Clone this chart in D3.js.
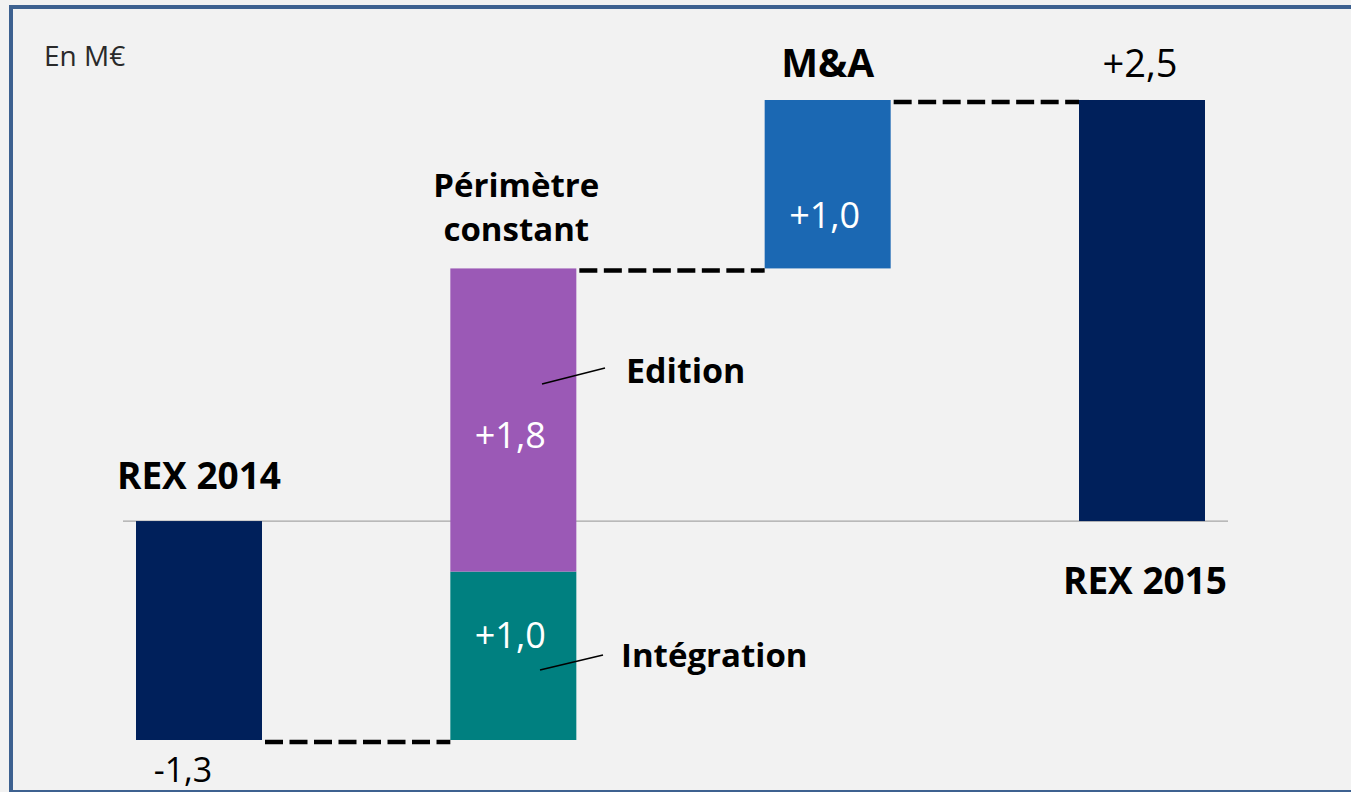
<!DOCTYPE html>
<html><head><meta charset="utf-8">
<script src="https://cdn.jsdelivr.net/npm/d3@7"></script>
<style>
html,body{margin:0;padding:0;background:#f2f2f2;overflow:hidden}
svg{display:block}
text{font-family:"Open Sans","Noto Sans",sans-serif}
</style></head>
<body>
<svg id="c" width="1351" height="792"></svg>
<script>
// Data
const categories = ["REX 2014", "Périmètre constant", "M&A", "REX 2015"];
const segCategory = ["REX 2014", "Périmètre constant", "Périmètre constant", "M&A", "REX 2015"];
const segStart    = [0, -1.3, -0.3, 1.5, 0];
const segEnd      = [-1.3, -0.3, 1.5, 2.5, 2.5];
const segLabel    = ["", "+1,0", "+1,8", "+1,0", ""];
const segColor    = ["#00205b", "#008080", "#9b59b6", "#1b68b3", "#00205b"];
const connectorLevels = [-1.3, 1.5, 2.5];
const totalLabels = ["-1,3", "+2,5"];
const unitLabel = "En M€";

const svg = d3.select("#c");
const W = 1351, H = 792;

svg.append("rect").attr("x",0).attr("y",0).attr("width",W).attr("height",H).attr("fill","#f2f2f2");
const frame = "#3d6190";
svg.append("line").attr("x1",9).attr("x2",W).attr("y1",7).attr("y2",7).attr("stroke",frame).attr("stroke-width",4);
svg.append("line").attr("x1",11).attr("x2",11).attr("y1",5).attr("y2",H).attr("stroke",frame).attr("stroke-width",4);
svg.append("line").attr("x1",9).attr("x2",W).attr("y1",791).attr("y2",791).attr("stroke",frame).attr("stroke-width",2);

const y = d3.scaleLinear().domain([-1.3, 2.5]).range([740, 100]);
const x = d3.scalePoint().domain(categories).range([199, 1142]);
const bw = 126;

svg.append("line").attr("x1",123).attr("x2",1228).attr("y1",y(0)).attr("y2",y(0))
  .attr("stroke","#a6a6a6").attr("stroke-width",1.2);

const segs = segCategory.map((c,i)=>({c, s:segStart[i], e:segEnd[i], l:segLabel[i], col:segColor[i]}));
svg.selectAll("rect.bar").data(segs).join("rect").attr("class","bar")
  .attr("x", d=>x(d.c)-bw/2).attr("width", bw)
  .attr("y", d=>y(Math.max(d.s,d.e))).attr("height", d=>Math.abs(y(d.s)-y(d.e)))
  .attr("fill", d=>d.col);

// label placement within each segment (fraction from the top of the segment)
const labelFrac = [0.5, 0.375, 0.55, 0.68, 0.5];
svg.selectAll("text.in").data(segs.map((d,i)=>({...d, f:labelFrac[i]})).filter(d=>d.l)).join("text").attr("class","in")
  .attr("x", d=>x(d.c)-3)
  .attr("y", d=>{const top=y(Math.max(d.s,d.e)), bot=y(Math.min(d.s,d.e)); return top+(bot-top)*d.f+13;})
  .attr("text-anchor","middle").attr("fill","#fff").attr("font-size",36).text(d=>d.l);

connectorLevels.forEach((v,i)=>{
  const a = categories[i], b = categories[i+1];
  svg.append("line").attr("x1", x(a)+bw/2+3).attr("x2", x(b)-bw/2)
    .attr("y1", y(v)+2).attr("y2", y(v)+2)
    .attr("stroke","#000").attr("stroke-width",4.5).attr("stroke-dasharray","18,6.5");
});

const txt = (t,xx,yy,size,weight,anchor="middle")=>svg.append("text").attr("x",xx).attr("y",yy)
  .attr("text-anchor",anchor).attr("font-weight",weight).attr("font-size",size).attr("fill","#000").text(t);

txt(categories[0], x(categories[0]), 489, 37, 700);
txt(totalLabels[0], x(categories[0])-16, 782, 34, 400);
txt("Périmètre", x(categories[1])+3, 197, 33, 700);
txt("constant", x(categories[1])+3, 241, 33, 700);
txt(categories[2], x(categories[2]), 77, 39, 700);
txt(totalLabels[1], x(categories[3])-2, 77, 38, 400);
txt(categories[3], x(categories[3])+3, 594, 37, 700);

svg.append("line").attr("x1",542).attr("y1",384).attr("x2",605).attr("y2",368).attr("stroke","#000").attr("stroke-width",1.6);
txt("Edition", 626, 383, 34, 700, "start");
svg.append("line").attr("x1",540).attr("y1",670).attr("x2",603).attr("y2",655).attr("stroke","#000").attr("stroke-width",1.6);
txt("Intégration", 621, 667, 33, 700, "start");

svg.append("text").attr("x",44).attr("y",66).attr("font-size",28).attr("fill","#2a2a2a").text(unitLabel);
</script>
</body></html>
